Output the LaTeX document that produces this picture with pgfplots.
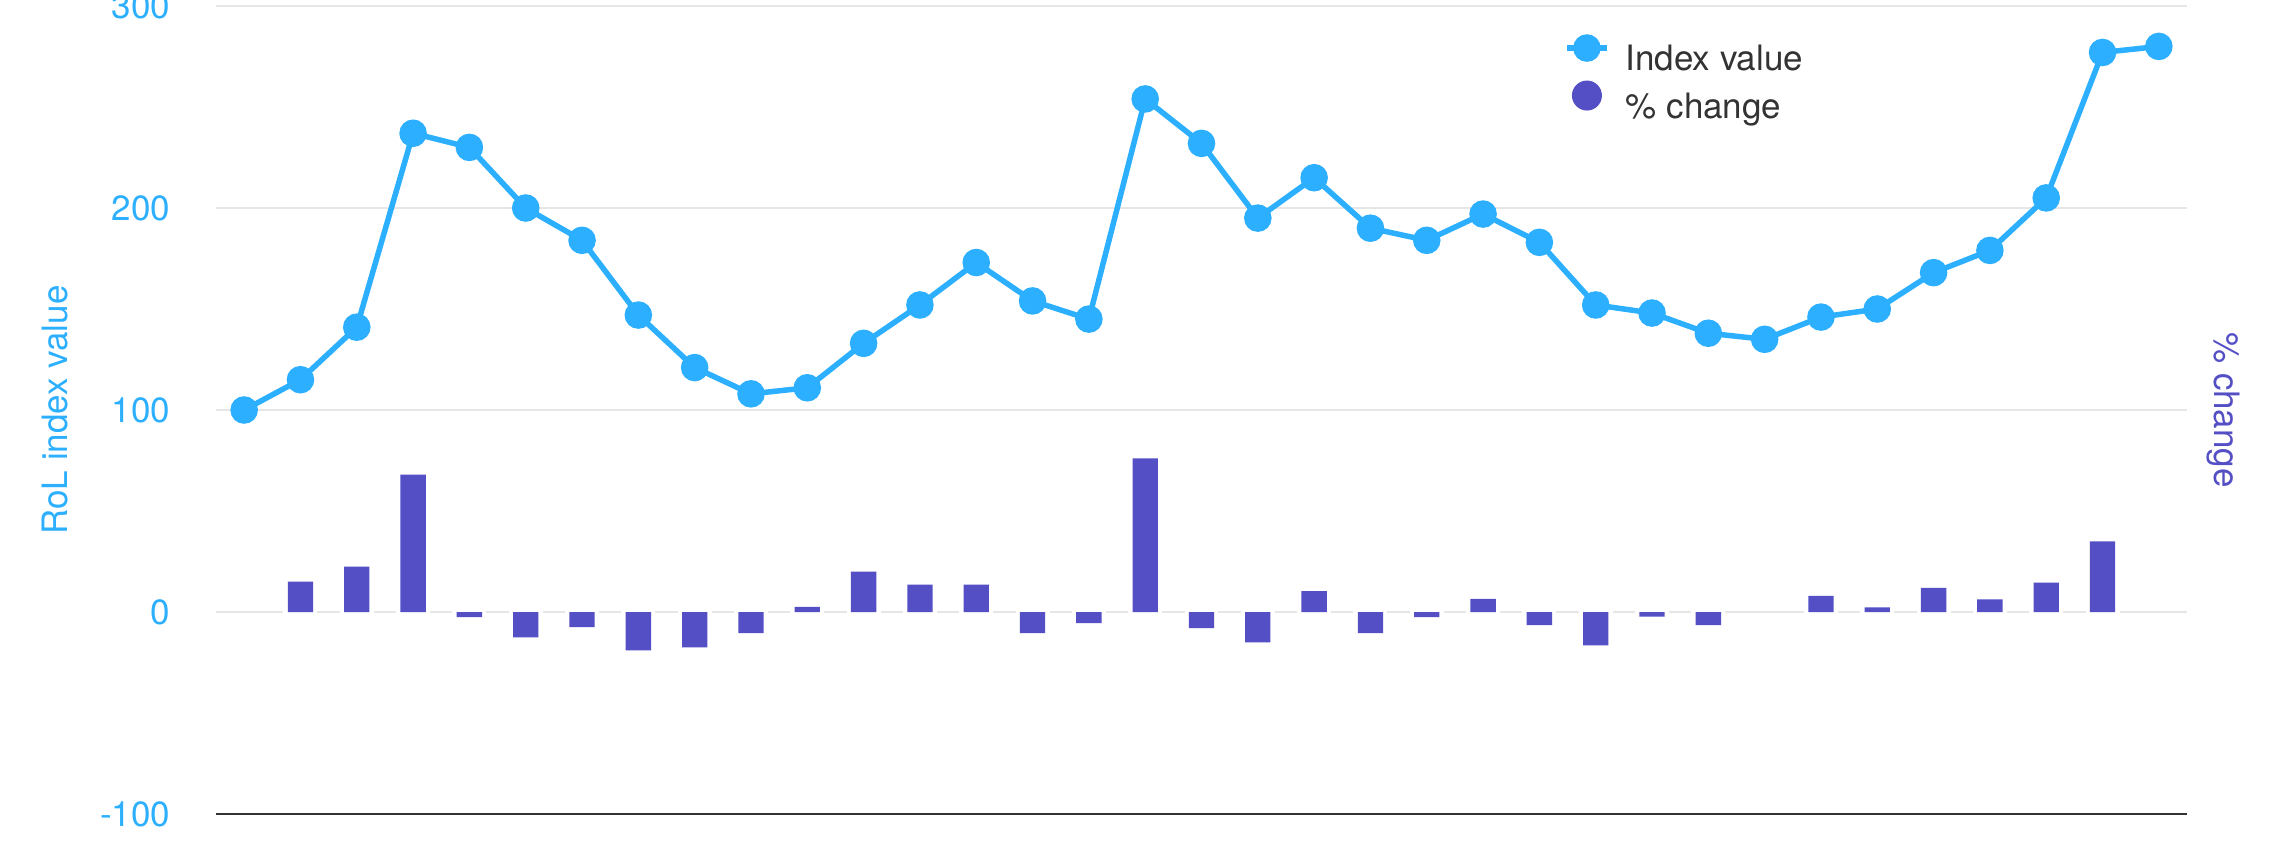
\documentclass[border=0pt]{standalone}
\usepackage{fontspec}
\setmainfont{TeX Gyre Heros}
\usepackage{pgfplots}
\usepackage{pgfplotstable}
\pgfplotsset{compat=1.18}

\definecolor{lineblue}{HTML}{2CAFFE}
\definecolor{barpurple}{HTML}{544FC5}
\definecolor{gridgray}{HTML}{E6E6E6}
\definecolor{axisdark}{HTML}{333333}

\newcommand{\chartfont}{\fontsize{9.96pt}{12pt}\selectfont}

% index value per period
\pgfplotstableread{
x y
0 100
1 115
2 141
3 237
4 230
5 200
6 184
7 147
8 121
9 108
10 111
11 133
12 152
13 173
14 154
15 145
16 254
17 232
18 195
19 215
20 190
21 184
22 197
23 183
24 152
25 148
26 138
27 135
28 146
29 150
30 168
31 179
32 205
33 277
34 280
}\indextable

% % change (no bar at 0, 27, 34)
\pgfplotstableread{
x p
1 15
2 22.5
3 68
4 -2.5
5 -12.5
6 -7.5
7 -19
8 -17.5
9 -10.5
10 2.5
11 20
12 13.5
13 13.5
14 -10.5
15 -5.5
16 76
17 -8
18 -15
19 10.3
20 -10.5
21 -2.5
22 6.5
23 -6.5
24 -16.5
25 -2.3
26 -6.5
28 8
29 2.3
30 12
31 6.3
32 14.5
33 35
}\changetable

\begin{document}
\begin{tikzpicture}
\begin{axis}[
  name=ax,
  scale only axis,
  width=19.71cm, height=8.08cm,
  xmin=-0.5, xmax=34.5,
  ymin=-100, ymax=300,
  xtick=\empty,
  ytick={-100,0,100,200,300},
  yticklabels={-100,0,100,200,300},
  tick style={draw=none},
  major tick length=0pt,
  yticklabel style={font=\chartfont, text=lineblue, inner sep=0pt, xshift=-0.45cm},
  ymajorgrids,
  grid style={gridgray, line width=0.7pt},
  axis x line*=bottom,
  axis y line*=left,
  y axis line style={draw=none},
  x axis line style={draw=axisdark, line width=0.85pt, -},
  legend cell align=left,
  legend style={
    at={(0.684,0.965)}, anchor=north west,
    draw=none, fill=none, inner sep=0pt, outer sep=0pt,
    row sep=0.02cm, column sep=0pt,
    font=\chartfont, text=axisdark,
    nodes={inner sep=0pt, text height=0.28cm, text depth=0.08cm},
  },
]
\addplot[lineblue, line width=0.055cm, mark=*, mark size=0.11cm,
  mark options={fill=lineblue, draw=none},
  legend image code/.code={
    \draw[lineblue, line width=0.055cm] (0cm,0.125cm) -- (0.40cm,0.125cm);
    \fill[lineblue] (0.20cm,0.125cm) circle (0.11cm);
    \path (0.56cm,0cm);
  }] table[x=x, y=y] {\indextable};
\addlegendentry{Index value}

% white halo that breaks the zero grid line around each bar
\addplot[ybar, bar width=0.55, bar shift=0pt, fill=white, draw=white, line width=0.03cm, forget plot]
  table[x=x, y=p] {\changetable};
\addplot[ybar, bar width=0.45, bar shift=0pt, fill=barpurple, draw=none,
  legend image code/.code={
    \fill[barpurple] (0.20cm,0.125cm) circle (0.15cm);
    \path (0.56cm,0cm);
  }] table[x=x, y=p] {\changetable};
\addlegendentry{\% change}
\end{axis}

\node[font=\chartfont, text=lineblue, rotate=90] at ([xshift=-1.61cm]ax.west) {RoL index value};
\node[font=\chartfont, text=barpurple, rotate=-90] at ([xshift=0.36cm]ax.east) {\% change};

\pgfresetboundingbox
\useasboundingbox ([xshift=-2.16cm, yshift=-0.43cm]ax.south west) rectangle ([xshift=20.70cm, yshift=0.06cm]ax.north west);
\end{tikzpicture}
\end{document}
